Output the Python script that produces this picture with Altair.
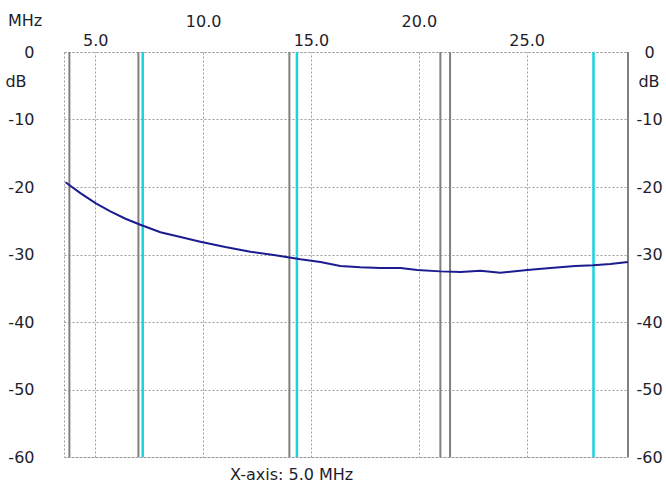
import altair as alt
import pandas as pd

# Frequency (MHz) and attenuation (dB)
freq = [3.62, 4.31, 5.01, 5.70, 6.40, 7.09, 8.02, 8.95, 9.87, 11.03, 12.19,
        13.35, 14.51, 15.44, 16.36, 17.29, 18.22, 19.15, 19.93, 21.00, 21.93,
        22.86, 23.78, 25.03, 26.10, 27.26, 28.09, 28.88, 29.70]
db = [-19.3, -20.9, -22.4, -23.6, -24.7, -25.6, -26.7, -27.4, -28.1, -28.9,
      -29.6, -30.1, -30.7, -31.1, -31.7, -31.9, -32.0, -32.0, -32.3, -32.5,
      -32.6, -32.4, -32.7, -32.3, -32.0, -31.7, -31.6, -31.4, -31.1]

gray_markers = [3.8, 7.0, 14.0, 21.0, 21.45, 29.7]
cyan_markers = [7.2, 14.35, 28.1]

x_ticks_low = [5, 15, 25]
x_ticks_high = [10, 20]
y_ticks = [0, -10, -20, -30, -40, -50, -60]

x_domain = [3.55, 29.7]
y_domain = [-60, 0]

FONT = "DejaVu Sans"
TXT = "#1e1e2e"
GRID = "#9a9a9a"
FS = 16

curve = pd.DataFrame({"f": freq, "db": db})
gray_df = pd.DataFrame({"f": gray_markers})
cyan_df = pd.DataFrame({"f": cyan_markers})

xs = alt.Scale(domain=x_domain, nice=False, zero=False)
ys = alt.Scale(domain=y_domain, nice=False, zero=False)

common_axis = dict(ticks=False, tickSize=0, domain=False, title=None,
                   labelFont=FONT, labelFontSize=FS, labelColor=TXT,
                   gridColor=GRID, gridDash=[2, 2], gridWidth=1,
                   labelOverlap=False)

line = alt.Chart(curve).mark_line(color="#1c1c90", strokeWidth=2).encode(
    x=alt.X("f:Q", scale=xs,
            axis=alt.Axis(orient="top", values=x_ticks_low, format=".1f",
                          labelPadding=12, labelBaseline="middle",
                          labelFlush=False, grid=True, **common_axis)),
    y=alt.Y("db:Q", scale=ys,
            axis=alt.Axis(orient="left", values=y_ticks, labelPadding=30,
                          labelAlign="right", labelBaseline="middle",
                          labelExpr="'' + datum.value",
                          grid=True, **common_axis)),
)

gray = alt.Chart(gray_df).mark_rule(color="#808080", strokeWidth=2).encode(
    x=alt.X("f:Q", scale=xs,
            axis=alt.Axis(orient="top", values=x_ticks_high, format=".1f",
                          labelPadding=31, labelBaseline="middle",
                          labelFlush=False, grid=True, **common_axis)),
)

cyan = alt.Chart(cyan_df).mark_rule(color="#18d4e0", strokeWidth=2.5).encode(
    x=alt.X("f:Q", scale=xs, axis=None),
)

# right dB axis
right = alt.Chart(curve).mark_point(opacity=0).encode(
    x=alt.X("f:Q", scale=xs, axis=None),
    y=alt.Y("db:Q", scale=ys,
            axis=alt.Axis(orient="right", values=y_ticks, labelPadding=21,
                          labelAlign="center", labelBaseline="middle",
                          labelExpr="'' + datum.value",
                          grid=False, **common_axis)),
)

def label(txt, x, y, align="center", size=FS):
    return alt.Chart(pd.DataFrame({"t": [txt]})).mark_text(
        font=FONT, fontSize=size, color=TXT, align=align, baseline="middle"
    ).encode(x=alt.value(x), y=alt.value(y), text="t:N")

mhz = label("MHz", -56, -31, align="left")
db_left = label("dB", -48, 30)
db_right = label("dB", 585, 30)
caption = label("X-axis: 5.0 MHz", 166, 423, align="left")

chart = alt.layer(gray, cyan, line, right, mhz, db_left, db_right, caption).resolve_axis(
    x="independent", y="independent"
).properties(
    width=564, height=405,
    autosize=alt.AutoSizeParams(type="none"),
    padding={"left": 64, "top": 52, "right": 38, "bottom": 26},
    background="white",
).configure_view(
    stroke=GRID, strokeDash=[2, 2], strokeWidth=1
)

chart.save("out.html", embed_options={"renderer": "svg", "actions": False})
